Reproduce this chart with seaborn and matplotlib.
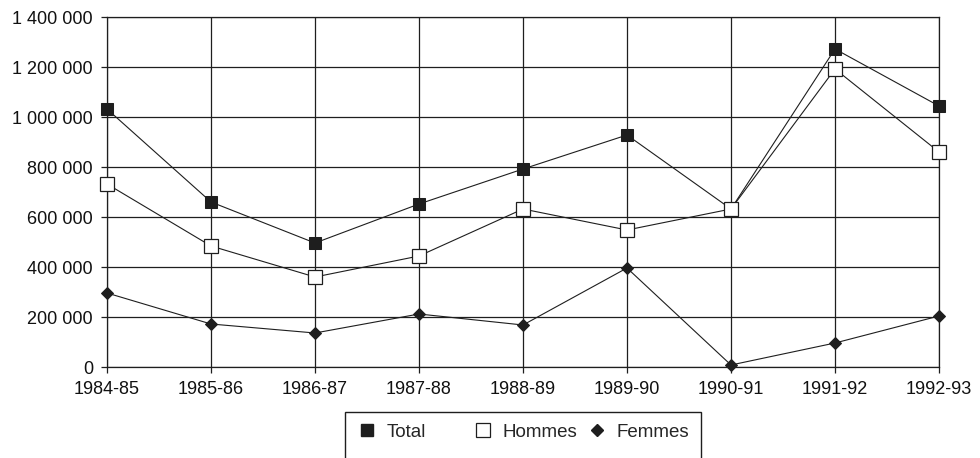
"""Total / Hommes / Femmes, 1984-85 to 1992-93."""

import matplotlib
matplotlib.use("Agg")
import matplotlib.pyplot as plt
import matplotlib.ticker as mticker
from matplotlib.lines import Line2D
from matplotlib.patches import Rectangle
import pandas as pd
import seaborn as sns

# Data
YEARS = ["1984-85", "1985-86", "1986-87", "1987-88", "1988-89",
         "1989-90", "1990-91", "1991-92", "1992-93"]
TOTAL = [1032000, 660000, 496000, 652000, 792000, 928000, 632000, 1272000, 1044000]
HOMMES = [732000, 484000, 360000, 444000, 632000, 548000, 632000, 1192000, 860000]
FEMMES = [296000, 172000, 136000, 212000, 168000, 396000, 8000, 96000, 204000]
Y_TICKS = [0, 200000, 400000, 600000, 800000, 1000000, 1200000, 1400000]

INK = "#1e1e1e"

sns.set_theme(style="white")
plt.rcParams["font.family"] = ["Liberation Sans", "DejaVu Sans"]

df = pd.DataFrame({"annee": YEARS, "Total": TOTAL, "Hommes": HOMMES, "Femmes": FEMMES})

fig = plt.figure(figsize=(9.8, 4.58), dpi=100)
ax = fig.add_axes([107 / 980, 1 - 367 / 458, (939 - 107) / 980, (367 - 17) / 458])

# séries
sns.lineplot(data=df, x="annee", y="Total", ax=ax, sort=False, color=INK, lw=0.8,
             marker="s", markersize=8.5, markerfacecolor=INK, markeredgecolor=INK,
             zorder=3, clip_on=False)
sns.lineplot(data=df, x="annee", y="Hommes", ax=ax, sort=False, color=INK, lw=0.8,
             marker="s", markersize=10, markerfacecolor="white", markeredgecolor=INK,
             markeredgewidth=0.9, zorder=4, clip_on=False)
sns.lineplot(data=df, x="annee", y="Femmes", ax=ax, sort=False, color=INK, lw=0.8,
             marker="D", markersize=6.5, markerfacecolor=INK, markeredgecolor=INK,
             zorder=5, clip_on=False)

ax.set_xlim(0, len(YEARS) - 1)
ax.set_ylim(Y_TICKS[0], Y_TICKS[-1])
ax.set_yticks(Y_TICKS)
ax.yaxis.set_major_formatter(mticker.FuncFormatter(lambda v, _: f"{v:,.0f}".replace(",", " ")))
ax.set_xlabel("")
ax.set_ylabel("")

ax.grid(True, color=INK, lw=0.9)
ax.set_axisbelow(True)
for side in ["top", "right", "bottom", "left"]:
    ax.spines[side].set_visible(True)
    ax.spines[side].set_color(INK)
    ax.spines[side].set_linewidth(0.9)

ax.tick_params(axis="both", which="major", length=4, width=0.9, color=INK,
               labelsize=13, labelcolor="#111111")
ax.tick_params(axis="y", pad=6, left=True)
ax.tick_params(axis="x", pad=6, bottom=True)

# légende : cadre coupé par le bas de l'image
fig.add_artist(Rectangle((345 / 980, -0.2), 356 / 980, 0.2 + (458 - 412) / 458,
                         transform=fig.transFigure, fill=False, lw=1.0, ec=INK))

entries = [
    ("Total", Line2D([], [], ls="none", marker="s", ms=8.5, mfc=INK, mec=INK), 367),
    ("Hommes", Line2D([], [], ls="none", marker="s", ms=10, mfc="white", mec=INK, mew=0.9), 483),
    ("Femmes", Line2D([], [], ls="none", marker="D", ms=6.5, mfc=INK, mec=INK), 597),
]
for label, handle, mx in entries:
    fig.legend([handle], [label], loc="center left", frameon=False, fontsize=13.5,
               handlelength=1.0, handletextpad=0.5, borderpad=0, borderaxespad=0,
               bbox_to_anchor=((mx - 9) / 980, 1 - 432 / 458))

fig.savefig("out.png", dpi=100)
plt.close(fig)
